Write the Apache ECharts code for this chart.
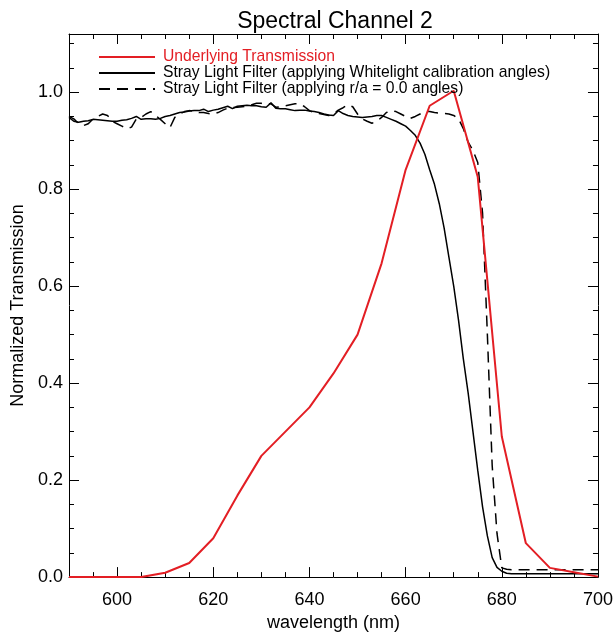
<!DOCTYPE html>
<html>
<head>
<meta charset="utf-8">
<script src="https://cdn.jsdelivr.net/npm/echarts@6/dist/echarts.min.js"></script>
<style>html,body{margin:0;padding:0;background:#fff}#c{width:616px;height:637px}</style>
</head>
<body>
<div id="c"></div>
<script>
// ---- data ----
const xTickLabels = [600, 620, 640, 660, 680, 700];
const yTickLabels = [0, 0.2, 0.4, 0.6, 0.8, 1.0];

const redWl = [590,595,600,605,610,615,620,625,630,635,640,645,650,655,660,665,670,675,680,685,690,695,700];
const redT  = [0,0,0,0,0.009,0.029,0.080,0.168,0.250,0.300,0.350,0.420,0.500,0.647,0.840,0.972,1.003,0.825,0.290,0.070,0.019,0.010,0.001];

const filtWl = [590,591,592,593,594,595,596,597,598,599,600,601,602,603,604,605,606,607,608,609,
  610,611,612,613,614,615,616,617,618,619,620,621,622,623,624,625,626,627,628,629,
  630,631,632,633,634,635,636,637,638,639,640,641,642,643,644,645,646,647,648,649,
  650,651,652,653,654,655,656,657,658,659,660,661,662,663,664,665,666,667,668,669,
  670,671,672,673,674,675,676,677,678,679,680,681,682,683,684,685,686,687,688,689,
  690,691,692,693,694,695,696,697,698,699,700];

const whitelightT = [0.948,0.940,0.938,0.940,0.941,0.944,0.943,0.942,0.941,0.940,
  0.940,0.942,0.943,0.946,0.950,0.944,0.945,0.945,0.944,0.946,
  0.950,0.952,0.955,0.958,0.959,0.961,0.962,0.962,0.965,0.960,
  0.963,0.965,0.968,0.971,0.966,0.971,0.972,0.973,0.972,0.972,
  0.970,0.969,0.978,0.967,0.966,0.966,0.964,0.962,0.963,0.963,
  0.961,0.960,0.958,0.955,0.953,0.952,0.962,0.956,0.952,0.950,
  0.949,0.948,0.949,0.950,0.952,0.952,0.948,0.944,0.940,0.935,
  0.930,0.921,0.911,0.895,0.872,0.840,0.810,0.770,0.720,0.660,
  0.600,0.530,0.450,0.380,0.300,0.220,0.145,0.085,0.040,0.020,
  0.012,0.008,0.007,0.007,0.007,0.007,0.007,0.007,0.007,0.007,
  0.007,0.007,0.007,0.007,0.007,0.007,0.007,0.007,0.007,0.007,0.007];

const r0T = [0.950,0.945,0.935,0.931,0.935,0.945,0.950,0.955,0.952,0.940,
  0.935,0.930,0.925,0.928,0.945,0.948,0.955,0.960,0.952,0.944,
  0.935,0.927,0.948,0.955,0.960,0.962,0.961,0.958,0.958,0.956,
  0.955,0.958,0.963,0.967,0.968,0.969,0.970,0.971,0.974,0.977,
  0.977,0.976,0.976,0.969,0.970,0.972,0.974,0.976,0.976,0.970,
  0.962,0.958,0.956,0.954,0.952,0.955,0.963,0.968,0.974,0.970,
  0.955,0.945,0.940,0.936,0.940,0.948,0.958,0.962,0.960,0.955,
  0.950,0.946,0.950,0.955,0.960,0.960,0.958,0.957,0.956,0.955,
  0.952,0.945,0.925,0.897,0.880,0.855,0.750,0.500,0.230,0.090,
  0.019,0.016,0.015,0.015,0.015,0.015,0.015,0.015,0.015,0.015,
  0.015,0.015,0.015,0.015,0.015,0.015,0.015,0.015,0.015,0.015,0.015];

const names = ['Underlying Transmission',
  'Stray Light Filter (applying Whitelight calibration angles)',
  'Stray Light Filter (applying r/a = 0.0 angles)'];

// ---- chart ----
const FONT = 'Liberation Sans';
const RED = '#e31e24';
const pairs = (xs, ys) => xs.map((x, i) => [x, ys[i]]);

function xAx(pos, major, showLabel) {
  const a = {
    type: 'value', position: pos, min: 590, max: 700,
    splitLine: { show: false },
    axisLine: { show: major, onZero: false, lineStyle: { color: '#000', width: 1 } },
    axisTick: { show: true, inside: true, length: major ? 10 : 5, lineStyle: { color: '#000', width: 1 } },
    axisLabel: { show: false }
  };
  if (major) {
    a.axisTick.customValues = xTickLabels;
    if (showLabel) {
      a.axisLabel = { show: true, customValues: xTickLabels, fontFamily: FONT, fontSize: 18, color: '#000', margin: 14 };
      a.name = 'wavelength (nm)';
      a.nameLocation = 'middle';
      a.nameGap = 22;
      a.nameTextStyle = { fontFamily: FONT, fontSize: 18, color: '#000' };
    }
  } else {
    a.interval = 5;
  }
  return a;
}
function yAx(pos, major, showLabel) {
  const a = {
    type: 'value', position: pos, min: 0, max: 1.12,
    splitLine: { show: false },
    axisLine: { show: major, onZero: false, lineStyle: { color: '#000', width: 1 } },
    axisTick: { show: true, inside: true, length: major ? 10 : 5, lineStyle: { color: '#000', width: 1 } },
    axisLabel: { show: false }
  };
  if (major) {
    a.axisTick.customValues = yTickLabels;
    if (showLabel) {
      a.axisLabel = { show: true, customValues: yTickLabels, fontFamily: FONT, fontSize: 18, color: '#000', margin: 6,
        formatter: v => Number(v).toFixed(1) };
      a.name = 'Normalized Transmission';
      a.nameLocation = 'middle';
      a.nameGap = 42;
      a.nameTextStyle = { fontFamily: FONT, fontSize: 18, color: '#000' };
    }
  } else {
    a.interval = 0.05;
  }
  return a;
}

const chart = echarts.init(document.getElementById('c'), null, { renderer: 'canvas' });
chart.setOption({
  animation: false,
  backgroundColor: '#fff',
  title: {
    text: 'Spectral Channel 2', left: 330, top: 5, textAlign: 'center',
    textStyle: { fontFamily: FONT, fontSize: 23, fontWeight: 'normal', color: '#000' }
  },
  legend: {
    orient: 'vertical', left: 98, top: 49, padding: 0, itemGap: 0,
    itemWidth: 56, itemHeight: 10,
    itemStyle: { opacity: 0 },
    textStyle: { fontFamily: FONT, fontSize: 15.7, lineHeight: 15, color: '#000', padding: [0, 0, 0, 3] },
    data: [
      { name: names[0], textStyle: { color: RED } },
      { name: names[1] },
      { name: names[2] }
    ]
  },
  grid: { left: 69, right: 16, top: 34, bottom: 51, containLabel: false },
  xAxis: [xAx('bottom', true, true), xAx('bottom', false), xAx('top', true, false), xAx('top', false)],
  yAxis: [yAx('left', true, true), yAx('left', false), yAx('right', true, false), yAx('right', false)],
  series: [
    { name: names[0], type: 'line', xAxisIndex: 0, yAxisIndex: 0, symbol: 'none', showSymbol: false, z: 3,
      data: pairs(redWl, redT), lineStyle: { color: RED, width: 2 }, itemStyle: { color: RED } },
    { name: names[1], type: 'line', xAxisIndex: 0, yAxisIndex: 0, symbol: 'none', showSymbol: false, z: 2,
      data: pairs(filtWl, whitelightT), lineStyle: { color: '#000', width: 1.5 }, itemStyle: { color: '#000' } },
    { name: names[2], type: 'line', xAxisIndex: 0, yAxisIndex: 0, symbol: 'none', showSymbol: false, z: 2,
      data: pairs(filtWl, r0T), lineStyle: { color: '#000', width: 1.5, type: [11, 7] }, itemStyle: { color: '#000' } }
  ]
});
</script>
</body>
</html>
